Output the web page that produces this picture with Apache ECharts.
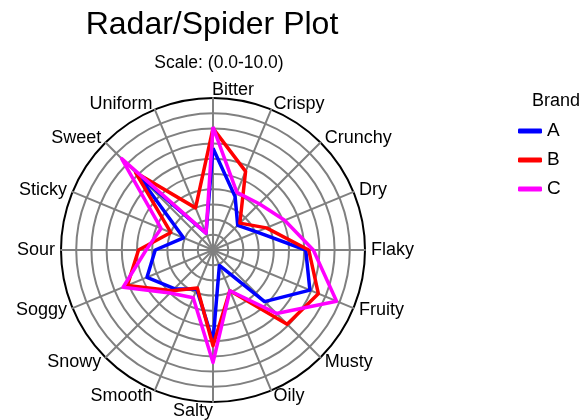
<!DOCTYPE html>
<html>
<head>
<meta charset="utf-8">
<script src="https://cdn.jsdelivr.net/npm/echarts@6/dist/echarts.min.js"></script>
<style>
  html, body { margin: 0; padding: 0; background: #fff; }
  #chart { width: 581px; height: 420px; }
</style>
</head>
<body>
<div id="chart"></div>
<script>
// categories, clockwise from the top
var categories = ['Bitter', 'Crispy', 'Crunchy', 'Dry', 'Flaky', 'Fruity', 'Musty', 'Oily',
                  'Salty', 'Smooth', 'Snowy', 'Soggy', 'Sour', 'Sticky', 'Sweet', 'Uniform'];
var brandA = [6.7, 3.8, 2.3, 3.1, 6.1, 6.9, 4.8, 1.1, 6.0, 2.8, 3.6, 4.7, 3.8, 2.1, 7.0, 1.2];
var brandB = [8.0, 5.6, 2.5, 3.8, 6.3, 7.5, 6.9, 2.9, 6.3, 2.7, 3.8, 6.1, 4.9, 3.0, 7.2, 3.0];
var brandC = [8.1, 4.1, 4.3, 5.1, 6.6, 8.8, 5.9, 2.9, 7.4, 3.4, 4.0, 6.4, 4.4, 3.7, 8.5, 1.2];
var scaleMin = 0, scaleMax = 10;

// echarts lays indicators out counter-clockwise, so flip the order
function flip(arr) {
    return [arr[0]].concat(arr.slice(1).reverse());
}

var chart = echarts.init(document.getElementById('chart'));

var ringColors = [];
for (var i = 0; i < 10; i++) ringColors.push('#808080');
ringColors.push('#000000');

var font = 'Liberation Sans';
var pad = '        ';   // pushes the top/bottom names off-centre like the original

var option = {
    backgroundColor: '#fff',
    title: [
        {
            text: 'Radar/Spider Plot',
            left: 207, top: 4, textAlign: 'center',
            textStyle: { fontSize: 32, fontWeight: 'normal', color: '#000', fontFamily: font }
        },
        {
            text: 'Scale: (0.0-10.0)',
            left: 214, top: 49, textAlign: 'center',
            textStyle: { fontSize: 17.5, fontWeight: 'normal', color: '#000', fontFamily: font }
        },
        {
            text: 'Brand',
            left: 527, top: 87,
            textStyle: { fontSize: 18, fontWeight: 'normal', color: '#000', fontFamily: font }
        }
    ],
    legend: {
        orient: 'vertical',
        left: 513, top: 116,
        itemWidth: 24, itemHeight: 5, itemGap: 9,
        icon: 'roundRect',
        textStyle: { fontSize: 19, color: '#000', fontFamily: font, lineHeight: 20 },
        data: ['A', 'B', 'C']
    },
    radar: {
        center: [213, 250],
        radius: 152,
        startAngle: 90,
        shape: 'circle',
        splitNumber: 10,
        nameGap: 6,
        indicator: flip(categories).map(function (c) {
            return { name: c, min: scaleMin, max: scaleMax };
        }),
        axisName: {
            color: '#000',
            fontSize: 18,
            fontFamily: font,
            formatter: function (name) {
                if (name === 'Bitter') return '{up|' + pad + name + '}';
                if (name === 'Salty') return '{down|' + name + pad + '}';
                return name;
            },
            rich: {
                up: { fontSize: 18, fontFamily: font, color: '#000', lineHeight: 3 },
                down: { fontSize: 18, fontFamily: font, color: '#000', lineHeight: 6 }
            }
        },
        axisLine: { lineStyle: { color: '#808080', width: 2 } },
        splitLine: { lineStyle: { color: ringColors, width: 2 } },
        splitArea: { show: false }
    },
    series: [{
        type: 'radar',
        symbol: 'none',
        data: [
            { name: 'A', value: flip(brandA), lineStyle: { color: '#0000ff', width: 3.5 }, itemStyle: { color: '#0000ff' } },
            { name: 'B', value: flip(brandB), lineStyle: { color: '#ff0000', width: 3.5 }, itemStyle: { color: '#ff0000' } },
            { name: 'C', value: flip(brandC), lineStyle: { color: '#ff00ff', width: 3.5 }, itemStyle: { color: '#ff00ff' } }
        ]
    }]
};

chart.setOption(option);
</script>
</body>
</html>
